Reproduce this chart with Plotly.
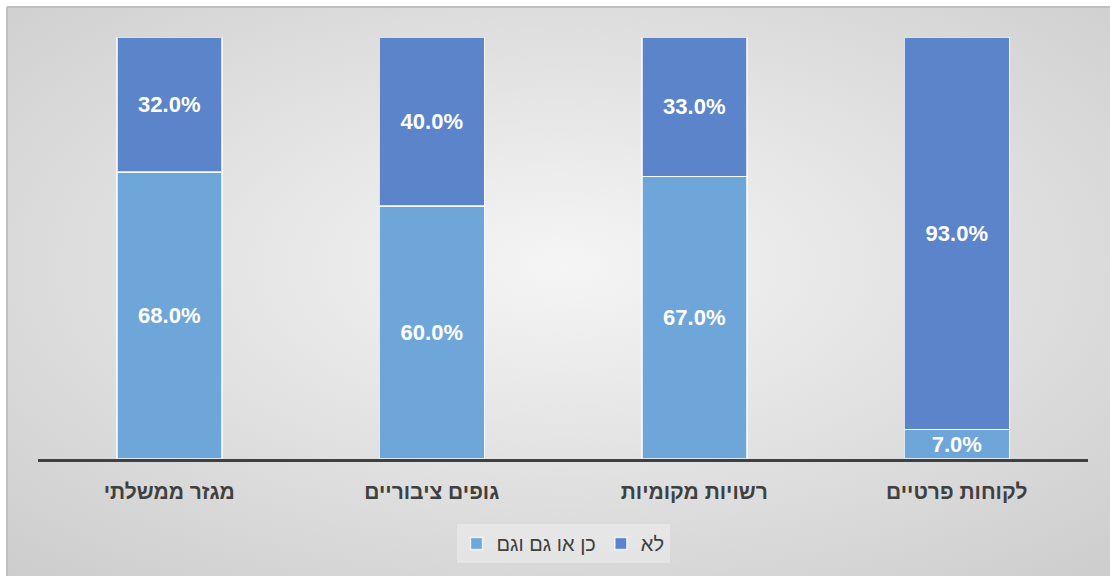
import base64
import plotly.graph_objects as go

# Survey shares per customer segment (percent)
categories = ["מגזר ממשלתי", "גופים ציבוריים", "רשויות מקומיות", "לקוחות פרטיים"]
yes_values = [68.0, 60.0, 67.0, 7.0]
no_values = [32.0, 40.0, 33.0, 93.0]
series_names = ["כן או גם וגם", "לא"]

COLOR_YES = "#6FA6D9"
COLOR_NO = "#5B84CA"
TEXT_DARK = "#404040"
FONT = "Liberation Sans, Arial, sans-serif"

W, H = 1110, 576
ML, MR, MT, MB = 38, 22, 37, 117
PW, PH = W - ML - MR, H - MT - MB

fig = go.Figure()
for name, vals, col in [(series_names[0], yes_values, COLOR_YES),
                        (series_names[1], no_values, COLOR_NO)]:
    fig.add_trace(go.Bar(
        x=categories, y=vals, name=name,
        marker=dict(color=col, line=dict(color="rgba(255,255,255,0.75)", width=1.5)),
        texttemplate="<b>%{y:.1f}%</b>",
        textposition="inside", insidetextanchor="middle", textangle=0,
        constraintext="none",
        textfont=dict(family=FONT, size=22, color="white"),
        hoverinfo="skip",
    ))

# Soft radial backdrop behind the chart
svg = (
    '<svg xmlns="http://www.w3.org/2000/svg" width="1103" height="569">'
    '<defs><radialGradient id="g" cx="50%" cy="45%" r="75%">'
    '<stop offset="0%" stop-color="#F5F5F5"/>'
    '<stop offset="100%" stop-color="#CCCCCC"/>'
    '</radialGradient></defs>'
    '<rect width="1103" height="569" fill="url(#g)"/></svg>'
)
src = "data:image/svg+xml;base64," + base64.b64encode(svg.encode()).decode()

x0 = (7 - ML) / PW
y_top = (MT + PH - 7) / PH
fig.add_layout_image(dict(
    source=src, xref="paper", yref="paper",
    x=x0, y=y_top, sizex=(W - 7) / PW + 0.01, sizey=(H - 7) / PH + 0.01,
    xanchor="left", yanchor="top", sizing="stretch", layer="below",
))

# Thin frame edges on top and left
fig.add_shape(type="line", xref="paper", yref="paper",
              x0=x0, x1=(W - ML) / PW, y0=y_top, y1=y_top,
              line=dict(color="#BFBFBF", width=2))
fig.add_shape(type="line", xref="paper", yref="paper",
              x0=x0, x1=x0, y0=y_top, y1=-(MB) / PH,
              line=dict(color="#BFBFBF", width=2))

fig.update_layout(
    width=W, height=H,
    margin=dict(l=ML, r=MR, t=MT, b=MB),
    paper_bgcolor="white",
    plot_bgcolor="rgba(0,0,0,0)",
    barmode="stack",
    bargap=0.6,
    font=dict(family=FONT, color=TEXT_DARK),
    showlegend=True,
    legend=dict(
        orientation="h", traceorder="normal",
        x=0.5, xanchor="center", y=-0.2, yanchor="middle",
        bgcolor="rgba(255,255,255,0.3)",
        font=dict(family=FONT, size=20, color=TEXT_DARK),
        itemwidth=30, borderwidth=0,
    ),
    xaxis=dict(
        showline=True, linecolor="#404040", linewidth=3,
        showgrid=False, ticks="", ticklabelstandoff=12,
        tickfont=dict(family=FONT, size=21, color=TEXT_DARK),
        tickvals=categories,
        ticktext=["<b>%s</b>" % c for c in categories],
        fixedrange=True,
    ),
    yaxis=dict(range=[0, 100], visible=False, fixedrange=True),
)

fig.write_html("out.html")
